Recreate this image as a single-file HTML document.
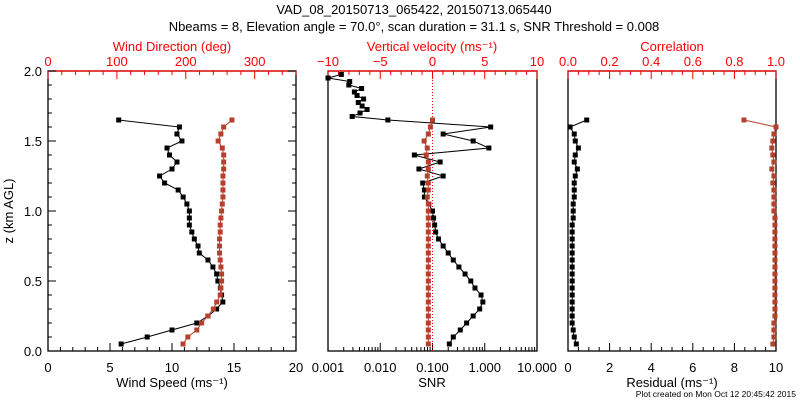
<!DOCTYPE html>
<html><head><meta charset="utf-8">
<style>
body{margin:0;background:#fff;}
svg{display:block;font-family:"Liberation Sans",sans-serif;}
</style></head>
<body>
<svg id="chart" width="800" height="400" viewBox="0 0 800 400">
<text x="414" y="14" font-size="13" text-anchor="middle">VAD_08_20150713_065422, 20150713.065440</text>
<text x="414" y="31" font-size="13" text-anchor="middle">Nbeams = 8, Elevation angle = 70.0°, scan duration = 31.1 s, SNR Threshold = 0.008</text>
<text x="796" y="397" font-size="8.5" text-anchor="end">Plot created on Mon Oct 12 20:45:42 2015</text>
</svg>
<script>
// ---- data ----
const heights = [0.05,0.10,0.15,0.20,0.25,0.30,0.35,0.40,0.45,0.50,0.55,0.60,0.65,0.70,0.75,0.80,0.85,0.90,0.95,1.00,1.05,1.10,1.15,1.20,1.25,1.30,1.35,1.40,1.45,1.50,1.55,1.60,1.65];
const windSpeed = [5.9,8.0,10.0,12.0,12.9,13.6,14.1,14.0,13.9,13.7,13.6,13.3,12.9,12.2,12.1,11.8,11.6,11.4,11.4,11.4,11.2,10.9,10.5,9.4,9.0,10.0,10.4,9.8,9.6,10.8,10.4,10.6,5.7];
const windDir = [196,203,216,223,232,240,245,250,251,252,252,251,250,249,249,249,250,250,251,252,253,254,254,254,254,255,255,255,253,247,251,255,267];
const snr = [0.21,0.25,0.34,0.45,0.6,0.8,0.92,0.85,0.65,0.54,0.42,0.32,0.25,0.2,0.16,0.13,0.115,0.11,0.105,0.1,0.085,0.07,0.07,0.065,0.16,0.055,0.14,0.045,1.2,0.6,0.16,1.3,0.014];
const snrUpperHeights = [1.675,1.70,1.725,1.75,1.775,1.80,1.825,1.85,1.875,1.90,1.925,1.95,1.975];
const snrUpper = [0.0029,0.0041,0.0056,0.0045,0.0038,0.0048,0.0036,0.0032,0.0044,0.0025,0.0026,0.001,0.0018];
const wVel = [-0.4,-0.4,-0.4,-0.4,-0.4,-0.4,-0.4,-0.4,-0.4,-0.4,-0.4,-0.4,-0.4,-0.4,-0.4,-0.4,-0.4,-0.4,-0.4,-0.4,-0.4,-0.5,-0.4,-0.4,-0.5,-0.4,-0.4,-0.6,-0.5,-0.8,-0.4,-0.2,0.0];
const residual = [0.4,0.3,0.25,0.2,0.2,0.2,0.2,0.2,0.2,0.2,0.2,0.2,0.2,0.2,0.2,0.2,0.2,0.2,0.25,0.25,0.25,0.3,0.3,0.3,0.35,0.45,0.3,0.35,0.5,0.35,0.3,0.1,0.9];
const correlation = [0.985,0.99,0.99,0.99,0.995,0.995,0.995,0.995,0.995,0.995,0.995,0.995,0.995,0.995,0.995,0.995,0.995,0.995,0.995,0.99,0.99,0.99,0.99,0.985,0.99,0.98,0.99,0.985,0.98,0.985,0.99,1.0,0.846];
const zTicks = ["0.0","0.5","1.0","1.5","2.0"];
const speedTicks = ["0","5","10","15","20"];
const dirTicks = ["0","100","200","300"];
const velTicks = ["\u221210","\u22125","0","5","10"];
const snrTicks = ["0.001","0.010","0.100","1.000","10.000"];
const corrTicks = ["0.0","0.2","0.4","0.6","0.8","1.0"];
const residTicks = ["0","2","4","6","8","10"];

// ---- layout ----
const svg = document.getElementById('chart');
const NS = 'http://www.w3.org/2000/svg';
const Y0 = 351, Y1 = 71;
const yz = z => Y0 + (Y1 - Y0) * z / 2;
const P1 = [48,296], P2 = [328,537], P3 = [568,776];
const lin = (p, a, b) => v => p[0] + (p[1]-p[0]) * (v - a) / (b - a);
const xSpeed = lin(P1,0,20), xDir = lin(P1,0,360);
const xVel = lin(P2,-10,10);
const xSnr = v => P2[0] + (P2[1]-P2[0]) * (Math.log10(v) + 3) / 4;
const xCorr = lin(P3,0,1), xRes = lin(P3,0,10);
const RED = '#ff0000', BR = '#b5402b';

function el(tag, attrs, parent) {
  const e = document.createElementNS(NS, tag);
  for (const k in attrs) e.setAttribute(k, attrs[k]);
  (parent || svg).appendChild(e);
  return e;
}
function txt(x, y, s, size, color, anchor, parent) {
  const t = el('text', {x:x, y:y, 'font-size':size, fill:color, 'text-anchor':anchor||'middle'}, parent);
  t.textContent = s;
  return t;
}

function frame(p, name) {
  const g = el('g', {});
  
  
  el('rect', {x:p[0], y:Y1, width:p[1]-p[0], height:Y0-Y1, fill:'none', stroke:'#000', 'stroke-width':1.3}, g);
  return g;
}
function hTicks(g, pos, y, dir, len, color) {
  pos.forEach(x => el('line', {x1:x, x2:x, y1:y, y2:y+dir*len, stroke:color, 'stroke-width':1}, g));
}

// Panel 1
const g1 = frame(P1, 'wind-panel');
el('line', {x1:P1[0], x2:P1[1], y1:Y1, y2:Y1, stroke:RED, 'stroke-width':1.3}, g1);
for (let v = 0; v <= 2.0001; v += 0.1) {
  const major = Math.abs(v*2 - Math.round(v*2)) < 1e-6;
  const L = major ? 8 : 4;
  el('line', {x1:P1[0], x2:P1[0]+L, y1:yz(v), y2:yz(v), stroke:'#000'}, g1);
  el('line', {x1:P1[1], x2:P1[1]-L, y1:yz(v), y2:yz(v), stroke:'#000'}, g1);
}
zTicks.forEach((s,i) => txt(42, yz(i*0.5)+5, s, 13, '#000', 'end', g1));
const yl = txt(0,0,'z (km AGL)',13,'#000','middle',g1);
yl.setAttribute('transform','translate(13,211) rotate(-90)');


for (let v = 0; v <= 20; v += 1) el('line', {x1:xSpeed(v), x2:xSpeed(v), y1:Y0, y2:Y0-(v%5===0?8:4), stroke:'#000'}, g1);
speedTicks.forEach((s,i) => txt(xSpeed(i*5), 372, s, 13, '#000', 'middle', g1));
txt(172, 387, 'Wind Speed (ms\u207B\u00B9)', 13, '#000', 'middle', g1);
for (let v = 0; v <= 360; v += 20) el('line', {x1:xDir(v), x2:xDir(v), y1:Y1, y2:Y1+(v%100===0?8:4), stroke:RED}, g1);
dirTicks.forEach((s,i) => txt(xDir(i*100), 66, s, 13, RED, 'middle', g1));
txt(172, 51, 'Wind Direction (deg)', 13, RED, 'middle', g1);

// Panel 2
const g2 = frame(P2, 'snr-velocity-panel');
el('line', {x1:P2[0], x2:P2[1], y1:Y1, y2:Y1, stroke:RED, 'stroke-width':1.3}, g2);
for (let v = -10; v <= 10; v += 1) el('line', {x1:xVel(v), x2:xVel(v), y1:Y1, y2:Y1+(v%5===0?8:4), stroke:RED}, g2);
velTicks.forEach((s,i) => txt(xVel(-10+i*5), 66, s, 13, RED, 'middle', g2));
txt(432, 51, 'Vertical velocity (ms\u207B\u00B9)', 13, RED, 'middle', g2);
for (let d = -3; d <= 1; d++) {
  for (let m = 1; m < 10; m++) {
    const v = Math.pow(10,d)*m;
    if (d === 1 && m > 1) break;
    el('line', {x1:xSnr(v), x2:xSnr(v), y1:Y0, y2:Y0-(m===1?8:4), stroke:'#000'}, g2);
  }
}
snrTicks.forEach((s,i) => txt(xSnr(Math.pow(10,i-3)), 372, s, 13, '#000', 'middle', g2));
txt(432, 387, 'SNR', 13, '#000', 'middle', g2);
el('line', {x1:xVel(0), x2:xVel(0), y1:Y1, y2:Y0, stroke:RED, 'stroke-dasharray':'1,2'}, g2);

// Panel 3
const g3 = frame(P3, 'residual-correlation-panel');
el('line', {x1:P3[0], x2:P3[1], y1:Y1, y2:Y1, stroke:RED, 'stroke-width':1.3}, g3);
for (let i = 0; i <= 20; i++) el('line', {x1:xCorr(i*0.05), x2:xCorr(i*0.05), y1:Y1, y2:Y1+(i%4===0?8:4), stroke:RED}, g3);
corrTicks.forEach((s,i) => txt(xCorr(i*0.2), 66, s, 13, RED, 'middle', g3));
txt(672, 51, 'Correlation', 13, RED, 'middle', g3);
for (let i = 0; i <= 20; i++) el('line', {x1:xRes(i*0.5), x2:xRes(i*0.5), y1:Y0, y2:Y0-(i%4===0?8:4), stroke:'#000'}, g3);
residTicks.forEach((s,i) => txt(xRes(i*2), 372, s, 13, '#000', 'middle', g3));
txt(672, 387, 'Residual (ms\u207B\u00B9)', 13, '#000', 'middle', g3);

// ---- series ----
function series(name, xs, hs, vals, color) {
  const g = el('g', {});
  
  
  const pts = vals.map((v,i) => [xs(v), yz(hs[i])]);
  el('polyline', {points: pts.map(p => p[0].toFixed(1)+','+p[1].toFixed(1)).join(' '), fill:'none', stroke:color, 'stroke-width':1}, g);
  pts.forEach(p => {
    const r = el('rect', {x:p[0]-2.5, y:p[1]-2.5, width:5, height:5, fill:color}, g);
    
    
  });
}
series('wind-speed-series', xSpeed, heights, windSpeed, '#000');
series('wind-direction-series', xDir, heights, windDir, BR);
series('snr-series', xSnr, heights.concat(snrUpperHeights), snr.concat(snrUpper), '#000');
series('vertical-velocity-series', xVel, heights, wVel, BR);
series('residual-series', xRes, heights, residual, '#000');
series('correlation-series', xCorr, heights, correlation, BR);
</script>
</body></html>
